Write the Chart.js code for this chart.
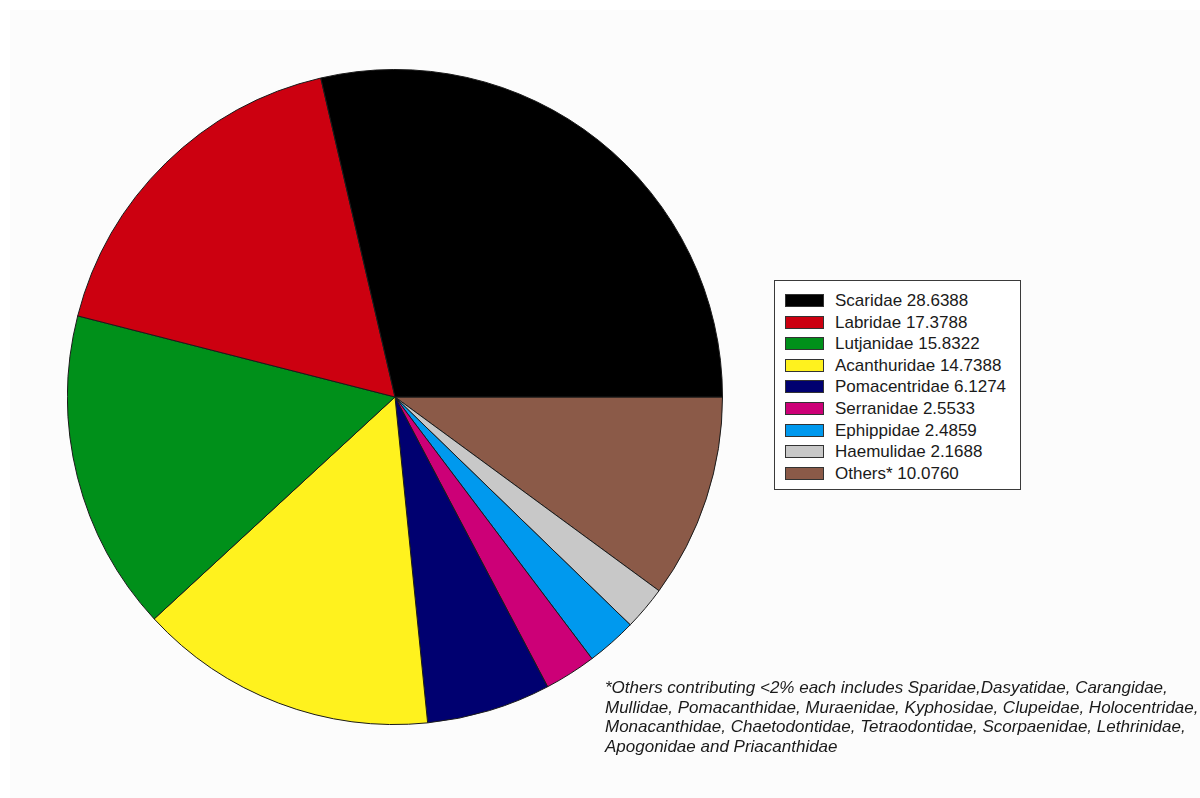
<!DOCTYPE html>
<html>
<head>
<meta charset="utf-8">
<script src="https://cdn.jsdelivr.net/npm/chart.js@4/dist/chart.umd.min.js"></script>
<style>
  html, body { margin: 0; padding: 0; background: #ffffff; width: 1200px; height: 798px; overflow: hidden; }
  #bg { position: absolute; left: 10px; top: 10px; width: 1190px; height: 788px; background: #fcfcfc; }
  #wrap { position: absolute; left: 67px; top: 69px; width: 656px; height: 656px; }
  #legend { position: absolute; left: 774px; top: 280px; width: 247px; height: 210px; border: 1px solid #3a3a3a; background: #ffffff; box-sizing: border-box; font-family: "Liberation Sans", Arial, sans-serif; font-size: 17px; color: #1a1a1a; }
  .row { position: absolute; left: 10px; height: 20px; line-height: 20px; white-space: nowrap; }
  .sw { position: absolute; left: 0; top: 3px; width: 39px; height: 13px; border: 1px solid #333; box-sizing: border-box; }
  .lbl { position: absolute; left: 50px; top: 0; }
  #note { position: absolute; left: 605px; top: 678px; font-family: "Liberation Sans", Arial, sans-serif; font-style: italic; font-size: 17px; line-height: 19.5px; color: #1a1a1a; white-space: nowrap; }
</style>
</head>
<body>
<div id="bg"></div>
<div id="wrap"><canvas id="c"></canvas></div>
<div id="legend"></div>
<div id="note"></div>
<script>
const families = ["Scaridae", "Labridae", "Lutjanidae", "Acanthuridae", "Pomacentridae", "Serranidae", "Ephippidae", "Haemulidae", "Others*"];
const shares = [28.6388, 17.3788, 15.8322, 14.7388, 6.1274, 2.5533, 2.4859, 2.1688, 10.0760];
const valueLabels = ["28.6388", "17.3788", "15.8322", "14.7388", "6.1274", "2.5533", "2.4859", "2.1688", "10.0760"];
const colors = ["#000000", "#cc0010", "#00901a", "#fff21e", "#000070", "#cc0077", "#0099ee", "#c8c8c8", "#8b5a48"];
const noteLines = [
  "*Others contributing <2% each includes Sparidae,Dasyatidae, Carangidae,",
  "Mullidae, Pomacanthidae, Muraenidae, Kyphosidae, Clupeidae, Holocentridae,",
  "Monacanthidae, Chaetodontidae, Tetraodontidae, Scorpaenidae, Lethrinidae,",
  "Apogonidae and Priacanthidae"
];

// Original draws counter-clockwise from 3 o'clock; Chart.js draws clockwise,
// so feed the series in reverse order starting at 3 o'clock.
const revLabels = families.slice().reverse();
const revData = shares.slice().reverse();
const revColors = colors.slice().reverse();

new Chart(document.getElementById('c'), {
  type: 'pie',
  data: {
    labels: revLabels,
    datasets: [{
      data: revData,
      backgroundColor: revColors,
      borderColor: '#1a1a1a',
      borderWidth: 1,
      borderAlign: 'center'
    }]
  },
  options: {
    responsive: true,
    maintainAspectRatio: false,
    animation: false,
    rotation: 90,
    layout: { padding: 0 },
    plugins: { legend: { display: false }, tooltip: { enabled: false } }
  }
});

const leg = document.getElementById('legend');
families.forEach((f, i) => {
  const row = document.createElement('div');
  row.className = 'row';
  row.style.top = (10 + i * 21.6) + 'px';
  const sw = document.createElement('div');
  sw.className = 'sw';
  sw.style.background = colors[i];
  const lb = document.createElement('div');
  lb.className = 'lbl';
  lb.textContent = f + ' ' + valueLabels[i];
  row.appendChild(sw);
  row.appendChild(lb);
  leg.appendChild(row);
});

document.getElementById('note').innerHTML = noteLines.map(l => l.replace(/</g, '&lt;')).join('<br>');
</script>
</body>
</html>
